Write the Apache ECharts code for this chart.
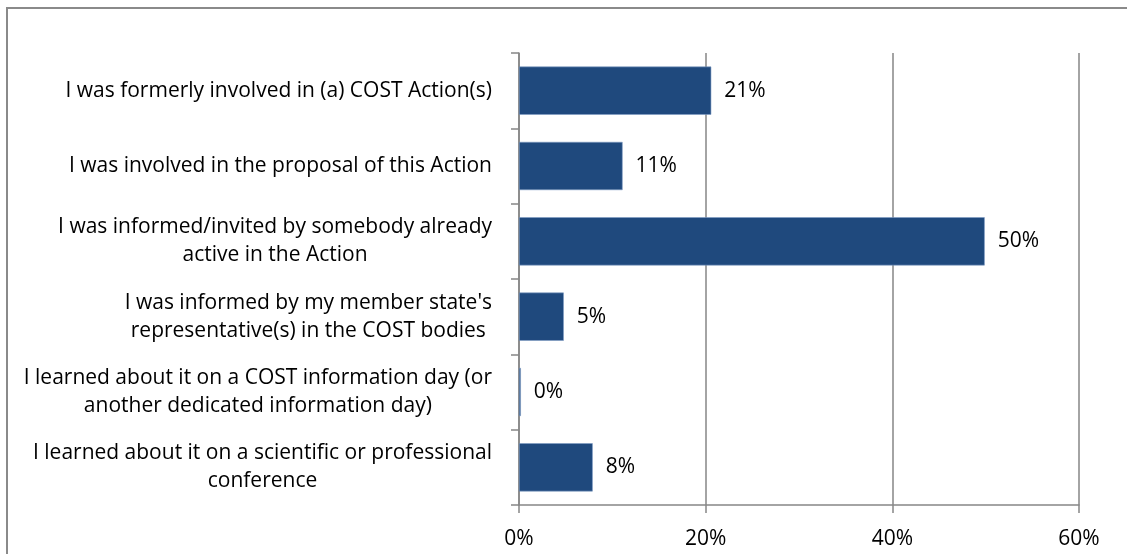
<!DOCTYPE html>
<html>
<head>
<meta charset="utf-8">
<script src="https://cdn.jsdelivr.net/npm/echarts@6/dist/echarts.min.js"></script>
<style>
html,body{margin:0;padding:0;background:#fff;}
#chart{width:1127px;height:554px;}
</style>
</head>
<body>
<div id="chart"></div>
<script>
const categories = [
  "I was formerly involved in (a) COST Action(s)",
  "I was involved in the proposal of this Action",
  "I was informed/invited by somebody already\nactive in the Action",
  "I was informed by my member state's\nrepresentative(s) in the COST bodies",
  "I learned about it on a COST information day (or\nanother dedicated information day)",
  "I learned about it on a scientific or professional\nconference"
];
const values = [20.6, 11.1, 49.9, 4.8, 0.2, 7.9];
const xMin = 0, xMax = 60, xStep = 20;

const FONT = 'Open Sans';
const FS_CAT = 21;
const FS_NUM = 21;

const chart = echarts.init(document.getElementById('chart'), null, {renderer: 'canvas'});
chart.setOption({
  animation: false,
  backgroundColor: '#fff',
  graphic: [{
    type: 'rect',
    shape: {x: 7, y: 8, width: 1300, height: 700},
    style: {fill: 'none', stroke: '#8a8a8a', lineWidth: 2},
    silent: true
  }],
  grid: {left: 519, right: 48, top: 53, bottom: 49, containLabel: false},
  xAxis: {
    type: 'value',
    min: xMin, max: xMax, interval: xStep,
    axisLine: {show: true, lineStyle: {color: '#868686', width: 1.5}},
    axisTick: {show: true, length: 8, lineStyle: {color: '#868686', width: 1.5}},
    splitLine: {show: true, lineStyle: {color: '#868686', width: 1.5}},
    axisLabel: {
      formatter: '{value}%', margin: 24,
      color: '#000', fontFamily: FONT, fontSize: FS_NUM
    }
  },
  yAxis: {
    type: 'category',
    data: categories,
    inverse: true,
    axisLine: {show: true, lineStyle: {color: '#868686', width: 1.5}},
    axisTick: {show: true, length: 8, lineStyle: {color: '#868686', width: 1.5}},
    splitLine: {show: false},
    axisLabel: {
      align: 'right', margin: 27,
      formatter: function (v) {
        return v.split('\n').map(function (l) { return '{c|' + l + '}'; }).join('\n');
      },
      rich: {
        c: {align: 'center', fontFamily: FONT, fontSize: FS_CAT, lineHeight: 28, color: '#000'}
      }
    }
  },
  series: [{
    type: 'bar',
    data: values,
    barCategoryGap: '36%',
    itemStyle: {color: '#1F497D', borderColor: '#7f9cc4', borderWidth: 0.6},
    label: {
      show: true, position: 'right', distance: 13,
      formatter: function (p) { return Math.round(p.value) + '%'; },
      color: '#000', fontFamily: FONT, fontSize: FS_NUM
    }
  }]
});
</script>
</body>
</html>
